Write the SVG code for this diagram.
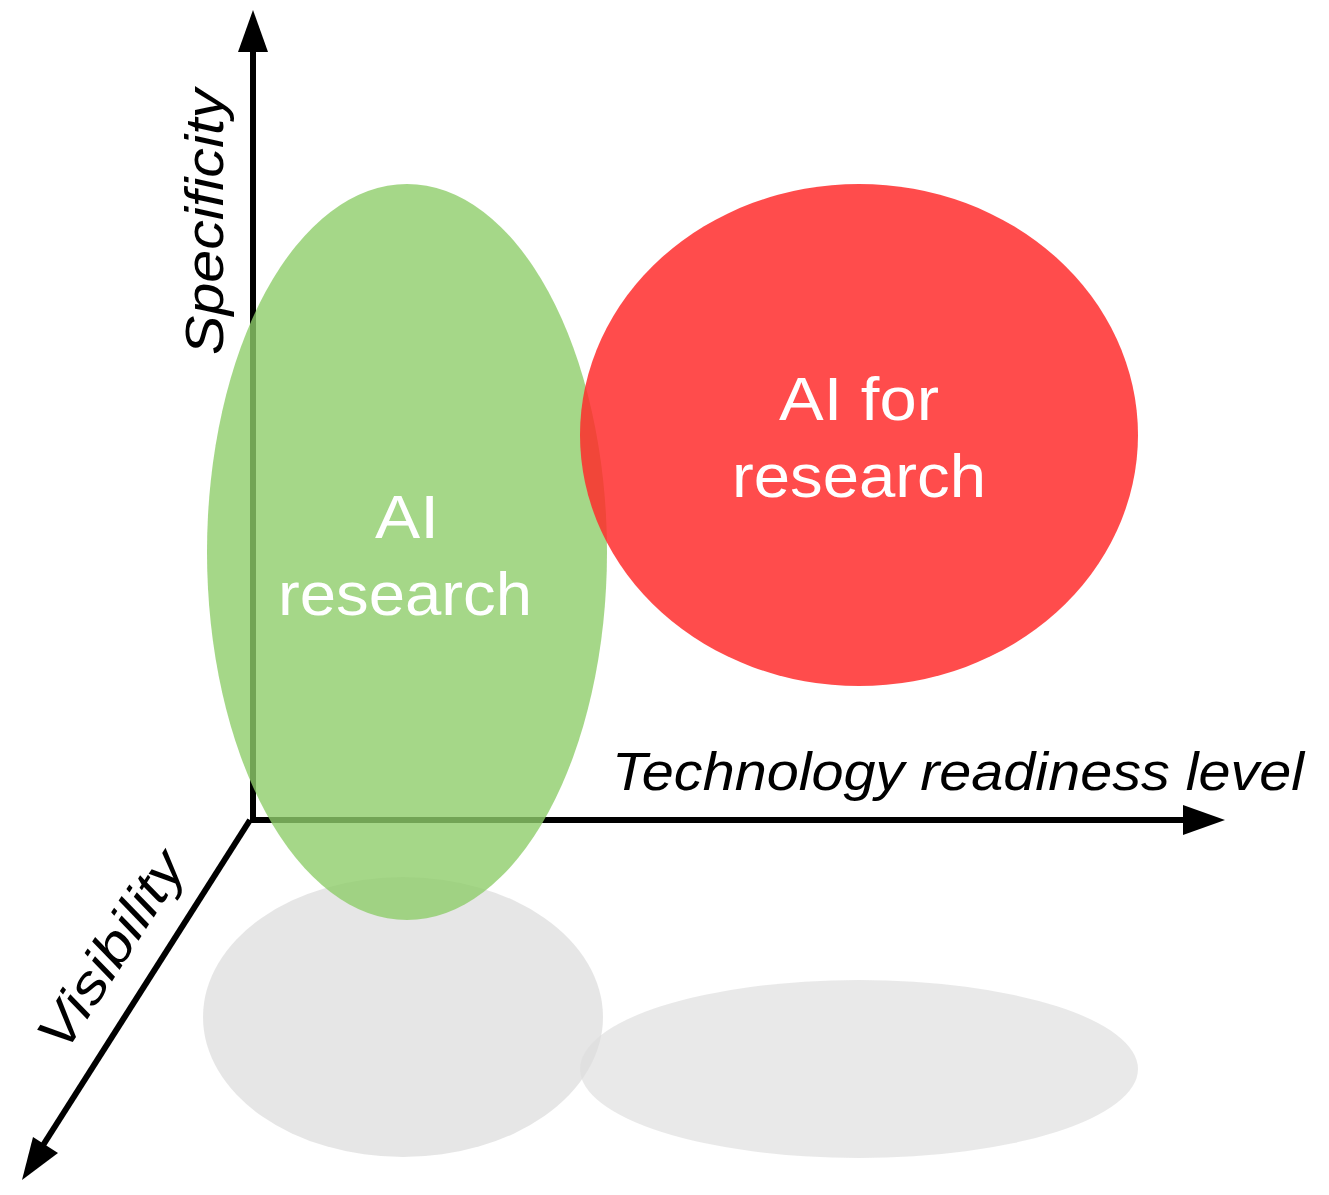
<svg xmlns="http://www.w3.org/2000/svg" width="1329" height="1195" viewBox="0 0 1329 1195">
<style>
.ax{stroke:#000;stroke-width:6;fill:none}
.lbl{font-family:"Liberation Sans",Arial,sans-serif;font-style:italic;font-size:53px;fill:#000}
.in{font-family:"Liberation Sans",Arial,sans-serif;font-size:61px;fill:#fff;text-anchor:middle}
</style>
<rect width="1329" height="1195" fill="#fff"/>
<g id="shadows">
<ellipse cx="403" cy="1017" rx="200" ry="140" fill="#dddddd" opacity="0.75"/>
<ellipse cx="859" cy="1069" rx="279" ry="89" fill="#dddddd" opacity="0.65"/>
</g>
<g id="connectors">
<path class="ax" d="M253 820 V45"/>
<polygon points="253,10 238,52 268,52"/>
<path class="ax" d="M250 820 H1190"/>
<polygon points="1225,820 1183,805 1183,835"/>
<path class="ax" d="M250 820 L40 1150"/>
<polygon points="22,1180 33,1137 58,1153"/>
</g>
<g id="ai-research">
<ellipse cx="407" cy="552" rx="200" ry="368" fill="#8fcd6a" opacity="0.8"/>
<text class="in" x="407" y="538" textLength="64" lengthAdjust="spacingAndGlyphs">AI</text>
<text class="in" x="405" y="615" textLength="254" lengthAdjust="spacingAndGlyphs">research</text>
</g>
<g id="ai-for-research">
<ellipse cx="859" cy="435" rx="279" ry="251" fill="#ff2a2a" opacity="0.84"/>
<text class="in" x="859" y="420" textLength="160" lengthAdjust="spacingAndGlyphs">AI for</text>
<text class="in" x="859" y="497" textLength="254" lengthAdjust="spacingAndGlyphs">research</text>
</g>
<g id="labels">
<text class="lbl" x="612" y="790" textLength="692" lengthAdjust="spacingAndGlyphs">Technology readiness level</text>
<text class="lbl" text-anchor="middle" transform="translate(223,222) rotate(-90)" textLength="266" lengthAdjust="spacingAndGlyphs">Specificity</text>
<text class="lbl" text-anchor="middle" transform="translate(126,960) rotate(-57)" textLength="225" lengthAdjust="spacingAndGlyphs">Visibility</text>
</g>
</svg>
